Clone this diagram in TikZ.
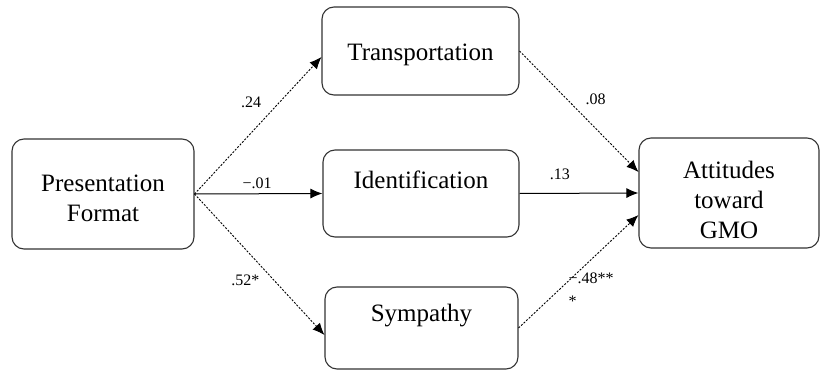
\documentclass[tikz,border=0pt]{standalone}
\usepackage{fontspec}
\setmainfont{Liberation Serif}
\usetikzlibrary{arrows.meta,positioning}

\begin{document}
\begin{tikzpicture}[x=1pt,y=-1pt,
    box/.style={draw=black!80, line width=1.1pt, rounded corners=12pt,
      font=\fontsize{25}{30}\selectfont, align=center},
    coef/.style={font=\fontsize{16}{19}\selectfont, inner sep=0pt},
    solidpath/.style={-{Latex[length=12pt,width=10pt]}, line width=1pt},
    dotpath/.style={-{Latex[length=12pt,width=10pt]}, line width=0.9pt,
      dash pattern=on 2pt off 1.5pt}]
  \useasboundingbox (0,0) rectangle (820,372);
  % boxes
  \node[box, minimum width=182pt, minimum height=110pt, text height=55pt, text depth=0pt] (format) at (103,194) {Presentation\\Format};
  \node[box, minimum width=197pt, minimum height=88pt, text height=25pt] (transp) at (420.5,51) {Transportation};
  \node[box, minimum width=196pt, minimum height=87pt, text depth=27pt] (ident) at (421,193.5) {Identification};
  \node[box, minimum width=193pt, minimum height=82pt, text depth=30pt] (symp) at (421.5,328) {Sympathy};
  \node[box, minimum width=180pt, minimum height=110pt, text height=91pt, text depth=0pt] (attit) at (729,193) {Attitudes\\toward\\GMO};
  % paths
  \draw[dotpath] (format.east) -- ([yshift=-6pt]transp.west) node[coef, pos=.67, left=18pt] {.24};
  \draw[solidpath] (format.east) -- (ident.west) node[coef, pos=.49, above=5pt] {−.01};
  \draw[dotpath] (format.east) -- ([yshift=-7pt]symp.west) node[coef, pos=.61, left=14pt] {.52*};
  \draw[dotpath] (transp.east) -- ([yshift=21pt]attit.west) node[coef, pos=.4, right=18pt] {.08};
  \draw[solidpath] (ident.east) -- (attit.west) node[coef, pos=.34, above=13pt] {.13};
  \draw[dotpath] (symp.east) -- ([yshift=-22pt]attit.west)
    node[coef, pos=.43, anchor=north west, align=left, xshift=-2pt, yshift=7pt] {−.48**\\[4pt]*};
\end{tikzpicture}
\end{document}
